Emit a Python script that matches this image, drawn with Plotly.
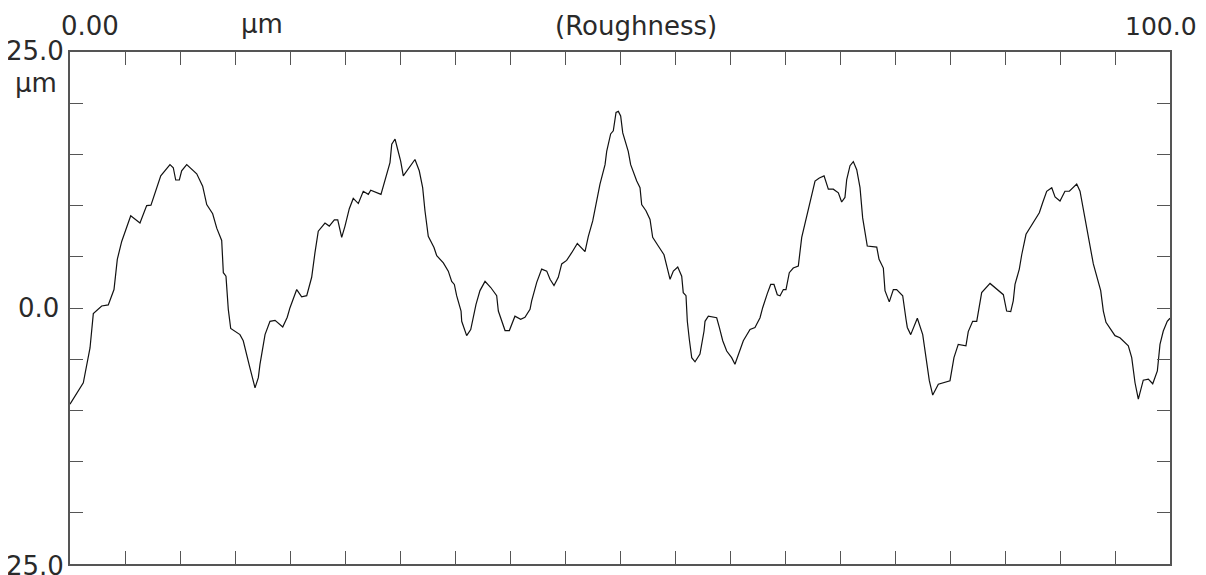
import plotly.graph_objects as go

# Profile trace (position in µm, height in µm)
pos_um = [0.00, 1.21, 1.82, 2.12, 2.88, 3.48, 4.00, 4.30, 4.70, 5.52, 6.36, 6.97, 7.36, 7.88, 8.25,
          9.09, 9.39, 9.61, 9.94, 10.15, 10.61, 11.52, 12.06, 12.43, 12.97, 13.34, 13.79, 13.94, 14.18,
          14.39, 14.61, 15.45, 15.75, 16.30, 16.82, 17.12, 17.27, 17.73, 18.18, 18.64, 19.34, 19.75,
          20.00, 20.61, 21.06, 21.52, 21.97, 22.27, 22.57, 23.18, 23.57, 24.03, 24.34, 24.70, 25.00,
          25.39, 25.75, 26.21, 26.66, 27.12, 27.34, 28.27, 28.64, 29.09, 29.25, 29.55, 29.75, 30.06,
          30.30, 31.36, 31.75, 32.06, 32.27, 32.57, 33.09, 33.34, 33.94, 34.39, 34.70, 34.94, 35.15,
          35.55, 35.61, 36.06, 36.43, 36.91, 37.27, 37.73, 38.25, 38.79, 38.94, 39.25, 39.55, 39.94,
          40.45, 40.97, 41.36, 41.82, 41.97, 42.43, 42.88, 43.34, 43.64, 44.00, 44.39, 44.70, 45.15,
          45.61, 46.12, 46.82, 47.12, 47.52, 47.94, 48.18, 48.64, 48.79, 49.15, 49.39, 49.64, 49.85,
          50.06, 50.25, 50.75, 50.97, 51.52, 51.82, 51.97, 52.36, 52.73, 52.97, 53.48, 54.00, 54.30,
          54.55, 54.85, 55.25, 55.61, 55.75, 56.00, 56.12, 56.30, 56.40, 56.52, 56.82, 57.27, 57.64,
          57.73, 58.03, 58.79, 59.03, 59.34, 59.70, 60.15, 60.45, 60.75, 61.21, 61.82, 62.27, 62.73,
          62.97, 63.39, 63.70, 64.00, 64.30, 64.55, 64.85, 65.09, 65.39, 65.75, 66.21, 66.52, 66.82,
          67.21, 67.73, 68.12, 68.55, 68.94, 69.39, 69.85, 70.15, 70.45, 70.61, 70.91, 71.21, 71.52,
          71.82, 72.06, 72.27, 72.48, 73.34, 73.55, 73.94, 74.09, 74.48, 74.85, 75.15, 75.70, 76.00,
          76.12, 76.43, 77.03, 77.52, 77.82, 78.12, 78.43, 78.94, 80.00, 80.36, 80.75, 81.45, 81.66,
          82.06, 82.43, 82.66, 82.88, 83.64, 84.85, 85.15, 85.52, 85.75, 85.91, 86.30, 86.52, 86.91,
          87.64, 88.12, 88.43, 88.79, 89.25, 89.55, 90.00, 90.45, 90.85, 91.52, 91.82, 92.27, 92.66,
          93.03, 93.70, 93.94, 94.18, 95.00, 95.45, 96.21, 96.52, 96.82, 97.12, 97.57, 98.03, 98.43,
          98.85, 99.09, 99.39, 99.75, 100.00]
height_um = [-9.4, -7.3, -3.9, -0.55, 0.2, 0.3, 1.8, 4.75, 6.5, 9.0, 8.3, 10.0, 10.05, 11.6, 12.9,
             14.0, 13.7, 12.5, 12.5, 13.4, 14.0, 13.1, 11.9, 10.1, 9.2, 7.8, 6.6, 3.45, 3.1,
             -0.13, -2.0, -2.6, -3.2, -5.6, -7.8, -6.8, -5.5, -2.6, -1.3, -1.2, -1.85, -0.9,
             0.03, 1.8, 1.1, 1.2, 3.0, 5.4, 7.5, 8.3, 8.0, 8.6, 8.6, 6.9, 8.0,
             9.7, 10.7, 10.2, 11.4, 11.1, 11.5, 11.1, 12.4, 14.2, 16.0, 16.5, 15.65, 14.35,
             12.9, 14.5, 13.4, 11.75, 9.5, 7.0, 5.9, 5.1, 4.4, 3.6, 2.6, 2.3, 1.2,
             -0.3, -1.3, -2.7, -2.1, 0.35, 1.7, 2.6, 2.0, 1.2, -0.3, -1.3, -2.2, -2.2,
             -0.8, -1.1, -0.9, -0.13, 0.7, 2.5, 3.8, 3.6, 2.8, 2.2, 3.0, 4.3, 4.65,
             5.4, 6.3, 5.5, 7.0, 8.5, 10.6, 12.1, 14.0, 15.3, 17.0, 17.3, 19.1, 19.2,
             18.75, 17.1, 15.3, 14.0, 12.4, 11.75, 10.1, 9.5, 8.65, 6.9, 6.05, 5.2, 3.9,
             2.8, 3.6, 4.0, 3.1, 1.5, 1.2, -1.3, -3.05, -4.2, -4.85, -5.25, -4.5, -2.25,
             -1.3, -0.8, -0.95, -1.9, -3.2, -4.2, -4.85, -5.5, -4.5, -3.2, -2.1, -1.9, -0.95,
             0.03, 1.4, 2.3, 2.3, 1.3, 1.2, 1.8, 1.8, 3.45, 3.9, 4.1, 6.9, 8.2,
             10.1, 12.4, 12.7, 12.9, 11.6, 11.6, 11.25, 10.35, 10.8, 12.55, 13.9, 14.3, 13.5,
             11.75, 8.8, 7.2, 6.05, 5.95, 4.75, 3.9, 1.7, 0.6, 1.8, 1.8, 1.2, -1.1,
             -1.9, -2.6, -1.0, -2.6, -4.85, -7.1, -8.5, -7.45, -7.1, -4.85, -3.55, -3.7, -2.3,
             -1.3, -1.3, 0.35, 1.5, 2.4, 1.3, -0.3, -0.35, 0.7, 2.3, 3.8, 5.2, 7.2,
             8.5, 9.3, 10.3, 11.4, 11.75, 10.85, 10.45, 11.4, 11.4, 12.1, 11.4, 8.8, 6.55,
             4.3, 1.7, -0.3, -1.4, -2.7, -2.9, -3.7, -4.85, -7.3, -8.9, -7.05, -6.95, -7.4,
             -6.15, -3.55, -2.25, -1.3, -1.0]

x_ticks = [5, 10, 15, 20, 25, 30, 35, 40, 45, 50, 55, 60, 65, 70, 75, 80, 85, 90, 95]
y_ticks = [-20, -15, -10, -5, 0, 5, 10, 15, 20]

FONT = "DejaVu Sans"
TXT = "#2a2a2a"
AX = "#555555"

fig = go.Figure()
fig.add_trace(go.Scatter(x=pos_um, y=height_um, mode="lines",
                         line=dict(color="#111111", width=1.2), hoverinfo="skip"))

axis_common = dict(showgrid=False, zeroline=False, showline=True, linecolor=AX, linewidth=1.5,
                   mirror="allticks", ticks="inside", ticklen=13, tickwidth=1.2, tickcolor=AX,
                   showticklabels=False)
fig.update_xaxes(range=[0, 100], tickvals=x_ticks, **axis_common)
fig.update_yaxes(range=[-25, 25], tickvals=y_ticks, **axis_common)

# page offset of 8px (body margin) compensated
OFF = 8
W, H = 1206 - OFF, 575 - OFF
L, R, T, B = 70 - OFF, 1170 - OFF, 52 - OFF, 564 - OFF


def px2paper(px, py):
    # px, py given in page pixels
    px -= OFF
    py -= OFF
    return (px - L) / (R - L), (B - py) / (B - T)


def label(text, px, py, xanchor="center", size=26):
    x, y = px2paper(px, py)
    fig.add_annotation(text=text, x=x, y=y, xref="paper", yref="paper", xanchor=xanchor,
                       yanchor="middle", showarrow=False,
                       font=dict(family=FONT, size=size, color=TXT))


label("0.00", 90, 26)
label("µm", 262, 24)
label("(Roughness)", 636, 26)
label("100.0", 1199, 26, "right", 25)
label("25.0", 66, 51, "right")
label("µm", 36, 83)
label("0.0", 61, 308, "right")
label("25.0", 66, 566, "right")

fig.update_layout(width=W, height=H, margin=dict(l=L, r=W - R, t=T, b=H - B),
                  paper_bgcolor="white", plot_bgcolor="white", showlegend=False)

fig.write_html("out.html")
